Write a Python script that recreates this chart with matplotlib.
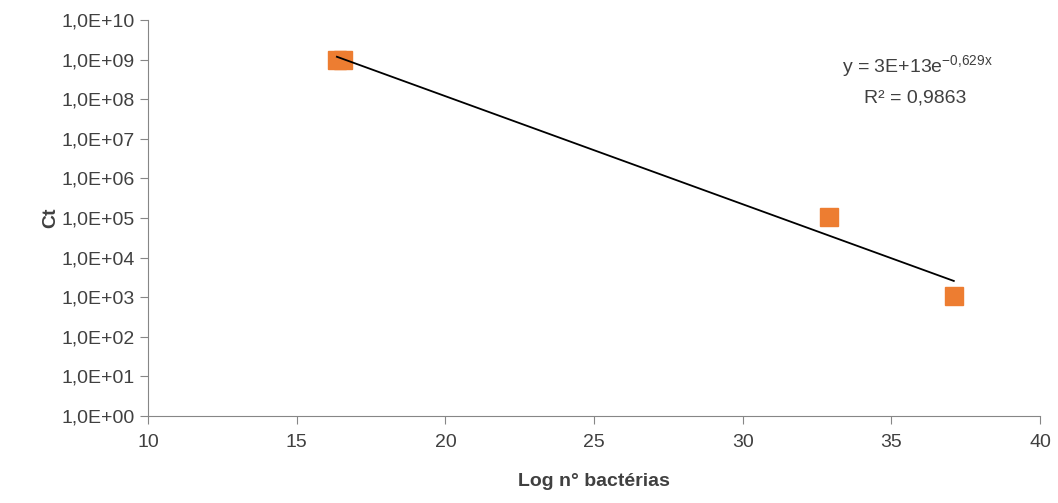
import numpy as np
import matplotlib.pyplot as plt

# dados
log_bact = [16.35, 16.55, 32.9, 37.1]
ct = [1.0e9, 1.0e9, 1.05e5, 1.1e3]
y_ticks = [10.0**k for k in range(0, 11)]
y_labels = ['1,0E+%02d' % k for k in range(0, 11)]
x_ticks = [10, 15, 20, 25, 30, 35, 40]

# ajuste exponencial
x = np.array(log_bact)
coef = np.polyfit(x, np.log(ct), 1)
xf = np.linspace(x.min(), x.max(), 50)
yf = np.exp(coef[1]) * np.exp(coef[0] * xf)

plt.rcParams['font.family'] = ['Liberation Sans', 'DejaVu Sans']
plt.rcParams['mathtext.default'] = 'regular'
fig = plt.figure(figsize=(10.58, 5.03), dpi=100)
ax = fig.add_axes([0.140, 0.173, 0.843, 0.787])

ax.plot(log_bact, ct, 's', color='#ED7D31', markersize=13, zorder=2)
ax.plot(xf, yf, color='black', linewidth=1.3, zorder=3)

ax.set_yscale('log')
ax.set_xlim(10, 40)
ax.set_ylim(1, 1e10)
ax.set_yticks(y_ticks)
ax.set_yticklabels(y_labels)
ax.yaxis.set_minor_locator(plt.NullLocator())
ax.set_xticks(x_ticks)

for s in ['top', 'right']:
    ax.spines[s].set_visible(False)
for s in ['left', 'bottom']:
    ax.spines[s].set_color('#868686')
ax.tick_params(colors='#868686', labelcolor='#404040', labelsize=14, length=6)
ax.tick_params(axis='x', pad=7)

ax.set_xlabel('Log n° bactérias', fontsize=14, fontweight='bold', color='#404040', labelpad=16)
ax.set_ylabel('Ct', fontsize=14, fontweight='bold', color='#404040', labelpad=2)

ax.text(0.867, 0.868, r'y = 3E+13e$^{-0{,}629x}$', transform=fig.transFigure,
        ha='center', va='center', fontsize=14, color='#404040')
ax.text(0.865, 0.805, 'R² = 0,9863', transform=fig.transFigure,
        ha='center', va='center', fontsize=14, color='#404040')

fig.savefig('out.png', dpi=100)
